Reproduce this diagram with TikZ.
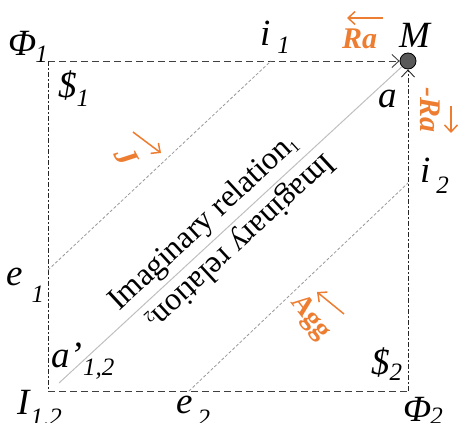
\documentclass[tikz,border=0pt]{standalone}
\usepackage{fontspec}
\setmainfont{Liberation Serif}
\usetikzlibrary{arrows.meta}
\definecolor{orng}{HTML}{ED7D31}
\newcommand\lblsub[4]{#1\hspace{#3}\raisebox{-#4}{\fontsize{25}{25}\selectfont #2}}
\begin{document}
\begin{tikzpicture}[x=1pt,y=-1pt,
  lab/.style={inner sep=0pt, anchor=base west, font=\fontsize{37}{42}\selectfont\itshape},
  olab/.style={inner sep=0pt, text=orng, font=\fontsize{30}{34}\selectfont\bfseries\itshape},
  rel/.style={inner sep=0pt, font=\fontsize{32}{36}\selectfont},
  oarrow/.style={draw=orng, line width=1.5pt, -{Straight Barb[length=7pt,width=13pt]}},
  frame/.style={draw=black!75, line width=0.9pt, dash pattern=on 7pt off 4pt},
  side/.style={draw=black!85, line width=0.9pt, dash pattern=on 5pt off 2pt on 2pt off 2pt},
  gdash/.style={draw=black!40, line width=0.8pt, dash pattern=on 3pt off 2pt},
  diag/.style={draw=black!25, line width=1pt},
  tipb/.style={-{Straight Barb[length=7pt,width=13pt]}},
  dot/.style={circle, draw=black, fill=black!65, line width=0.8pt, minimum size=16pt, inner sep=0pt}
]
\useasboundingbox (0,0) rectangle (458,423);
% corners
\coordinate (TL) at (48,61);
\coordinate (BL) at (48,391);
\coordinate (BR) at (408,391);
\node[dot] (M) at (408,61) {};
% frame
\draw[frame, tipb] (TL) -- (M);
\draw[side] (TL) -- (BL);
\draw[frame] (BL) -- (BR);
\draw[side, tipb] (BR) -- (M);
% diagonals
\coordinate (A2) at (59,383);
\draw[diag] (A2) -- (M);
\coordinate (E1) at (48,270);
\coordinate (I1) at (271,61);
\draw[gdash] (E1) -- (I1);
\coordinate (E2) at (189,391);
\coordinate (I2) at (408,183);
\draw[gdash] (E2) -- (I2);
% labels
\node[lab] (phi1) at (8,55) {\lblsub{Φ}{1}{-1pt}{7pt}};
\node[lab] (s1) at (58,97) {\lblsub{\$}{1}{0pt}{9pt}};
\node[lab] (i1l) at (260,45) {\lblsub{i}{1}{7pt}{9pt}};
\node[lab] (Ml) at (399,47) {M};
\node[lab] (al) at (378,107) {a};
\node[lab] (i2l) at (420,182) {\lblsub{i}{2}{6pt}{11pt}};
\node[lab] (e1l) at (6,285) {\lblsub{e}{1}{9pt}{17pt}};
\node[lab] (a12) at (51,367) {\lblsub{a’}{1,2}{1pt}{8pt}};
\node[lab] (I12) at (17,414) {\lblsub{I}{1,2}{1pt}{11pt}};
\node[lab] (e2l) at (176,413) {\lblsub{e}{2}{5pt}{13pt}};
\node[lab] (phi2) at (403,421) {\lblsub{Φ}{2}{-1pt}{3pt}};
\node[lab] (s2) at (371,374) {\lblsub{\$}{2}{0pt}{6pt}};
% orange labels
\node[olab, anchor=base west] (Ra) at (342,48) {Ra};
\coordinate (RaA) at (383,18);
\coordinate (RaB) at (347,18);
\draw[oarrow] (RaA) -- (RaB);
\node[olab, anchor=base west, rotate=-90] (mRa) at (420,87) {-Ra};
\coordinate (mRaA) at (451,106);
\coordinate (mRaB) at (451,133);
\draw[oarrow] (mRaA) -- (mRaB);
\node[olab, font=\fontsize{32}{36}\selectfont\bfseries\itshape, rotate=-62] (J) at (126,157) {J};
\coordinate (JA) at (133,132);
\coordinate (JB) at (161,153);
\draw[oarrow] (JA) -- (JB);
\node[olab, font=\fontsize{28}{32}\selectfont\bfseries, rotate=-52] (Agg) at (310,318) {Agg};
\coordinate (AggA) at (344,314);
\coordinate (AggB) at (317,292);
\draw[oarrow] (AggA) -- (AggB);
% relation texts
\node[rel, rotate=42.7] (rel1) at (204,223) {Imaginary relation\raisebox{-3pt}{\fontsize{16}{16}\selectfont 1}};
\node[rel, rotate=222.7] (rel2) at (240,241) {Imaginary relation\raisebox{-3pt}{\fontsize{16}{16}\selectfont 2}};
\end{tikzpicture}
\end{document}
